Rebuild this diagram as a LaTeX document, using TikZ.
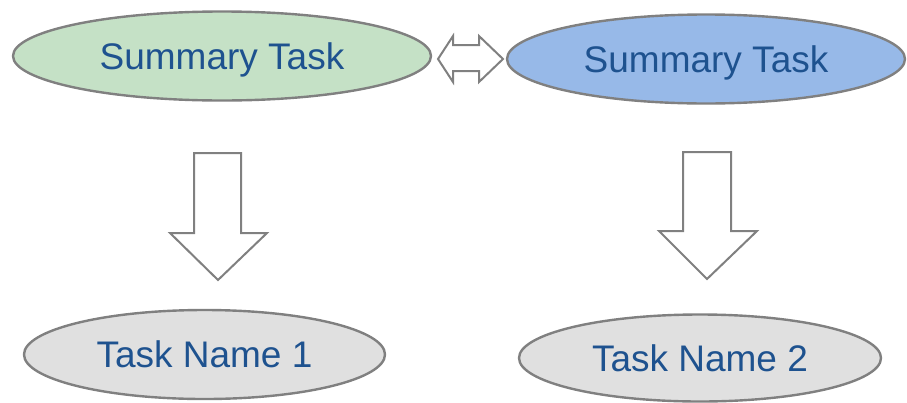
\documentclass[tikz,border=0pt]{standalone}
\usepackage{fontspec}
\setmainfont{Liberation Sans}
\usetikzlibrary{shapes.geometric}
\definecolor{edgegray}{HTML}{808080}
\definecolor{greenfill}{HTML}{C5E1C6}
\definecolor{bluefill}{HTML}{97B9E8}
\definecolor{grayfill}{HTML}{E0E0E0}
\definecolor{textblue}{HTML}{1E528F}
\tikzset{
  oval/.style={ellipse, draw=edgegray, line width=2.4pt, inner sep=0pt,
    text=textblue, font=\fontsize{37}{42}\selectfont,
    text height=26.5pt, text depth=0pt},
  blockarrow/.style={draw=edgegray, line width=2pt, fill=white, line join=miter}
}
\begin{document}
\begin{tikzpicture}[x=1pt,y=-1pt]
\useasboundingbox (0,0) rectangle (907,402);
\node[oval, fill=greenfill, minimum width=418, minimum height=89] (s1) at (222,56) {Summary Task};
\node[oval, fill=bluefill, minimum width=398, minimum height=89] (s2) at (706,59) {Summary Task};
\node[oval, fill=grayfill, minimum width=361, minimum height=89] (t1) at (204.5,354.5) {Task Name 1};
\node[oval, fill=grayfill, minimum width=362, minimum height=87] (t2) at (700,358) {Task Name 2};
% double arrow between summaries
\draw[blockarrow] (438,59) -- (453,36) -- (453,45) -- (479,45) -- (479,36) -- (503,59)
  -- (479,82) -- (479,71) -- (453,71) -- (453,82) -- cycle;
% down arrow left
\draw[blockarrow] (194,153) -- (241,153) -- (241,233) -- (267,233) -- (218,280)
  -- (170,233) -- (194,233) -- cycle;
% down arrow right
\draw[blockarrow] (683,152) -- (731,152) -- (731,231) -- (757,231) -- (707,279)
  -- (659,231) -- (683,231) -- cycle;
\end{tikzpicture}
\end{document}
